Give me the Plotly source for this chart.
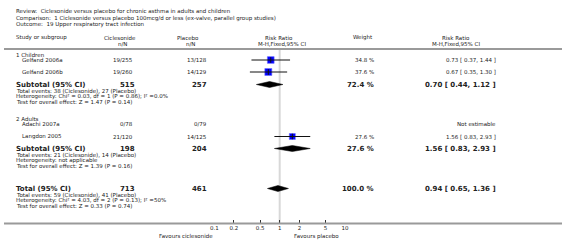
import plotly.graph_objects as go

W, H = 566, 248

# ---------------- data ----------------
title_lines = [
    "Review:  Ciclesonide versus placebo for chronic asthma in adults and children",
    "Comparison:  1 Ciclesonide versus placebo 100mcg/d or less (ex-valve, parallel group studies)",
    "Outcome:  19 Upper respiratory tract infection",
]
group_names = ["1 Children", "2 Adults"]
studies = ["Gelfand 2006a", "Gelfand 2006b", "Adachi 2007a", "Langdon 2005"]
study_group = [0, 0, 1, 1]
cic_nN = ["19/255", "19/260", "0/78", "21/120"]
pla_nN = ["13/128", "14/129", "0/79", "14/125"]
rr = [0.73, 0.67, None, 1.56]
rr_lo = [0.37, 0.35, None, 0.83]
rr_hi = [1.44, 1.30, None, 2.93]
weight = [34.8, 37.6, None, 27.6]

sub_cic_N = [515, 198]
sub_pla_N = [257, 204]
sub_weight = [72.4, 27.6]
sub_rr = [0.70, 1.56]
sub_lo = [0.44, 0.83]
sub_hi = [1.12, 2.93]
sub_notes = [
    ["Total events: 38 (Ciclesonide), 27 (Placebo)",
     "Heterogeneity: Chi² = 0.03, df = 1 (P = 0.86); I² =0.0%",
     "Test for overall effect: Z = 1.47 (P = 0.14)"],
    ["Total events: 21 (Ciclesonide), 14 (Placebo)",
     "Heterogeneity: not applicable",
     "Test for overall effect: Z = 1.39 (P = 0.16)"],
]
tot_cic_N, tot_pla_N, tot_weight = 713, 461, 100.0
tot_rr, tot_lo, tot_hi = 0.94, 0.65, 1.36
tot_notes = [
    "Total events: 59 (Ciclesonide), 41 (Placebo)",
    "Heterogeneity: Chi² = 4.03, df = 2 (P = 0.13); I² =50%",
    "Test for overall effect: Z = 0.33 (P = 0.74)",
]
tick_vals = [0.1, 0.2, 0.5, 1, 2, 5, 10]
tick_text = ["0.1", "0.2", "0.5", "1", "2", "5", "10"]
fav_left = "Favours ciclesonide"
fav_right = "Favours placebo"

# ---------------- layout positions (pixels) ----------------
FONT = "DejaVu Sans"
TXT = "#222222"
AX_Y = 223  # axis line pixel
X_LEFT = 12
X_CIC = 131
X_CIC_B = 133
X_PLA = 206
X_WT = 375
X_RR = 499

title_y = [12, 18, 24]
group_y = [55, 119]
study_y = [60, 72, 124, 136.5]
sub_y = [84.5, 148.5]
tot_y = 188.5
note_dy = [6, 11.5, 17]

ann = []


def T(text, x, y, size=5.5, anchor="left", bold=False, color=TXT):
    ann.append(dict(text=f"<b>{text}</b>" if bold else text,
                    x=x / W, y=1 - y / H, xref="paper", yref="paper",
                    xanchor=anchor, yanchor="middle", showarrow=False,
                    borderpad=0, borderwidth=0,
                    font=dict(size=size, family=FONT, color=color)))


for i, t in enumerate(title_lines):
    T(t, X_LEFT, title_y[i])

# headers
T("Study or subgroup", X_LEFT, 38)
T("Ciclesonide", 118, 38, anchor="center")
T("n/N", 120, 44, anchor="center")
T("Placebo", 187, 38, anchor="center")
T("n/N", 189, 44, anchor="center")
T("Risk Ratio", 279, 38, anchor="center")
T("M-H,Fixed,95% CI", 282, 44, anchor="center")
T("Weight", 364, 38, anchor="center")
T("Risk Ratio", 458, 38, anchor="center")
T("M-H,Fixed,95% CI", 458, 44, anchor="center")

for g in range(2):
    T(group_names[g], X_LEFT, group_y[g])
for i, s in enumerate(studies):
    y = study_y[i]
    T(s, 18, y)
    T(cic_nN[i], X_CIC, y, anchor="right")
    T(pla_nN[i], X_PLA, y, anchor="right")
    if rr[i] is None:
        T("Not estimable", X_RR, y, anchor="right")
    else:
        T(f"{weight[i]:.1f} %", X_WT, y, anchor="right")
        T(f"{rr[i]:.2f} [ {rr_lo[i]:.2f}, {rr_hi[i]:.2f} ]", X_RR, y, anchor="right")

for g in range(2):
    y = sub_y[g]
    T("Subtotal (95% CI)", X_LEFT, y, size=7, bold=True)
    T(str(sub_cic_N[g]), X_CIC_B, y, size=7, anchor="right", bold=True)
    T(str(sub_pla_N[g]), X_PLA, y, size=7, anchor="right", bold=True)
    T(f"{sub_weight[g]:.1f} %", X_WT, y, size=7, anchor="right", bold=True)
    T(f"{sub_rr[g]:.2f} [ {sub_lo[g]:.2f}, {sub_hi[g]:.2f} ]", X_RR, y, size=7, anchor="right", bold=True)
    for k, n in enumerate(sub_notes[g]):
        T(n, X_LEFT, y + note_dy[k])

T("Total (95% CI)", X_LEFT, tot_y, size=7, bold=True)
T(str(tot_cic_N), X_CIC_B, tot_y, size=7, anchor="right", bold=True)
T(str(tot_pla_N), X_PLA, tot_y, size=7, anchor="right", bold=True)
T(f"{tot_weight:.1f} %", X_WT, tot_y, size=7, anchor="right", bold=True)
T(f"{tot_rr:.2f} [ {tot_lo:.2f}, {tot_hi:.2f} ]", X_RR, tot_y, size=7, anchor="right", bold=True)
for k, n in enumerate(tot_notes):
    T(n, X_LEFT, tot_y + note_dy[k])

T(fav_left, 212, 236, anchor="right")
T(fav_right, 294, 236, anchor="left")

# ---------------- traces ----------------
fig = go.Figure()

# study CI lines + squares
for i in range(len(studies)):
    if rr[i] is None:
        continue
    y = study_y[i]
    sz = 3.6 * (weight[i] / 10) ** 0.5
    fig.add_trace(go.Scatter(x=[rr[i]], y=[y], mode="markers",
                             marker=dict(symbol="square", size=sz, color="#0000ff",
                                         line=dict(color="#6a6aff", width=0.6)),
                             hoverinfo="skip", cliponaxis=False))
    fig.add_trace(go.Scatter(x=[rr_lo[i], rr_hi[i]], y=[y, y], mode="lines",
                             line=dict(color="#111111", width=1),
                             hoverinfo="skip", cliponaxis=False))
    fig.add_trace(go.Scatter(x=[rr[i]], y=[y], mode="markers",
                             marker=dict(symbol="line-ns", size=4,
                                         line=dict(color="#111111", width=1)),
                             hoverinfo="skip", cliponaxis=False))


def diamond(c, lo, hi, y, h=3):
    fig.add_trace(go.Scatter(x=[lo, c, hi, c, lo], y=[y, y - h, y, y + h, y],
                             mode="lines", fill="toself", fillcolor="#000000",
                             line=dict(color="#000000", width=0.5),
                             hoverinfo="skip", cliponaxis=False))


for g in range(2):
    diamond(sub_rr[g], sub_lo[g], sub_hi[g], sub_y[g])
diamond(tot_rr, tot_lo, tot_hi, tot_y)

# ---------------- shapes ----------------
shapes = [
    dict(type="line", xref="paper", yref="paper", x0=0, x1=1,
         y0=1 - 49 / H, y1=1 - 49 / H, line=dict(color="#9a9a9a", width=2)),
    dict(type="line", xref="paper", yref="paper", x0=0, x1=1,
         y0=1 - (AX_Y + 0.5) / H, y1=1 - (AX_Y + 0.5) / H, line=dict(color="#9a9a9a", width=2)),
    dict(type="line", xref="x", yref="y", x0=1, x1=1, y0=50, y1=AX_Y,
         line=dict(color="#d8d8d8", width=2), layer="below"),
]

x0px, x1px = 213.3, 346.0  # pixel positions of 0.1 and 10
fig.update_layout(
    width=W, height=H, margin=dict(l=0, r=0, t=0, b=0),
    paper_bgcolor="white", plot_bgcolor="rgba(0,0,0,0)",
    showlegend=False, annotations=ann, shapes=shapes,
    xaxis=dict(type="log", range=[-1, 1], domain=[x0px / W, x1px / W],
               tickvals=tick_vals, ticktext=tick_text, ticks="inside", ticklen=3,
               tickwidth=1, tickcolor="#333333", showgrid=False, zeroline=False,
               showline=False, tickfont=dict(size=5.5, family=FONT, color=TXT),
               fixedrange=True),
    yaxis=dict(range=[AX_Y, 0], domain=[(H - AX_Y) / H, 1], visible=False,
               fixedrange=True),
)

fig.write_html("out.html", config={"displayModeBar": False},
               post_script="document.body.style.margin='0';document.body.style.overflow='hidden';")
